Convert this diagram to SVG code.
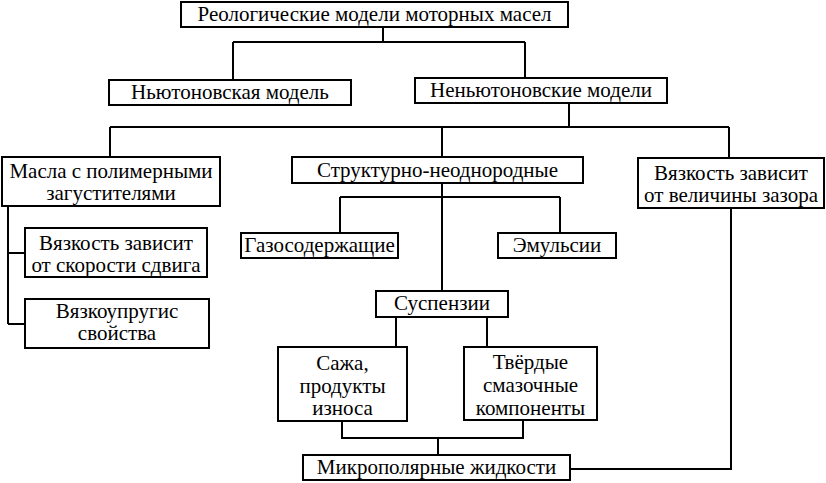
<svg xmlns="http://www.w3.org/2000/svg" width="826" height="483" viewBox="0 0 826 483">
<style>
rect{fill:#fff;stroke:#000;stroke-width:2}
text{font-family:'Liberation Serif','Times New Roman',serif;font-size:21px;fill:#000;text-anchor:middle}
#connectors path{fill:none;stroke:#000;stroke-width:2}
</style>
<rect x="0" y="0" width="826" height="483" style="stroke:none"/>
<g id="connectors">
<path d="M383 27V42M233 42H525M233 42V80M525 42V78"/>
<path d="M569 103V127M110 127H729M110 127V157M442 127V157M729 127V158"/>
<path d="M8 206V324M8 253H25M8 324H25"/>
<path d="M442 183V291M340 197H560M340 197V233M560 197V233"/>
<path d="M396 317V347M487 317V347"/>
<path d="M342 421V438H523V420M438 438V455"/>
<path d="M731 208V469H570"/>
</g>
<g id="title"><rect x="181" y="2" width="387" height="25"/><text x="374.5" y="21">Реологические модели моторных масел</text></g>
<g id="newton"><rect x="109" y="80" width="242" height="25"/><text x="230" y="99">Ньютоновская модель</text></g>
<g id="nonnewton"><rect x="415" y="78" width="252" height="25"/><text x="541" y="97">Неньютоновские модели</text></g>
<g id="masla"><rect x="2" y="157" width="218" height="49"/><text x="111" y="178">Масла с полимерными</text><text x="111" y="200">загустителями</text></g>
<g id="struct"><rect x="292" y="157" width="291" height="26"/><text x="437.5" y="177">Структурно-неоднородные</text></g>
<g id="gap"><rect x="638" y="158" width="186" height="50"/><text x="731" y="180">Вязкость зависит</text><text x="731" y="202">от величины зазора</text></g>
<g id="shear"><rect x="25" y="228" width="182" height="49"/><text x="116" y="250">Вязкость зависит</text><text x="116" y="272">от скорости сдвига</text></g>
<g id="visco"><rect x="25" y="299" width="184" height="49"/><text x="117" y="318">Вязкоупругис</text><text x="117" y="340">свойства</text></g>
<g id="gas"><rect x="241" y="233" width="157" height="25"/><text x="319.5" y="252">Газосодержащие</text></g>
<g id="emul"><rect x="498" y="233" width="118" height="25"/><text x="557" y="252">Эмульсии</text></g>
<g id="susp"><rect x="376" y="291" width="132" height="26"/><text x="442" y="310">Суспензии</text></g>
<g id="soot"><rect x="278" y="347" width="129" height="74"/><text x="342.5" y="370">Сажа,</text><text x="342.5" y="393">продукты</text><text x="342.5" y="415">износа</text></g>
<g id="solid"><rect x="464" y="347" width="133" height="73"/><text x="530.5" y="369">Твёрдые</text><text x="530.5" y="392">смазочные</text><text x="530.5" y="415">компоненты</text></g>
<g id="micro"><rect x="303" y="455" width="267" height="25"/><text x="436.5" y="474">Микрополярные жидкости</text></g>
</svg>
